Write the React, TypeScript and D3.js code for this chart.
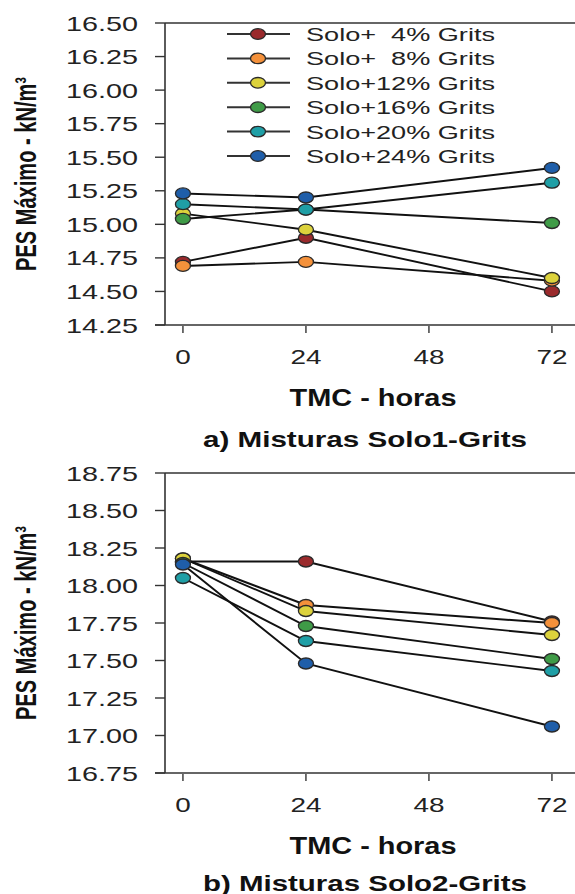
import * as d3 from 'd3';

const hours = [0, 24, 72];
const hourTicks = [0, 24, 48, 72];
const mixLabels = [
  'Solo+  4% Grits',
  'Solo+  8% Grits',
  'Solo+12% Grits',
  'Solo+16% Grits',
  'Solo+20% Grits',
  'Solo+24% Grits',
];
const mixColors = ['#9a2a2c', '#f4913b', '#dcd23c', '#3f9b47', '#1f9fa6', '#1f5ea9'];

// Solo1 (painel a)
const solo1Values = [
  [14.72, 14.9, 14.5],
  [14.69, 14.72, 14.58],
  [15.08, 14.96, 14.6],
  [15.04, 15.11, 15.01],
  [15.15, 15.11, 15.31],
  [15.23, 15.2, 15.42],
];
const solo1Ticks = [14.25, 14.5, 14.75, 15.0, 15.25, 15.5, 15.75, 16.0, 16.25, 16.5];

// Solo2 (painel b)
const solo2Values = [
  [18.16, 18.16, 17.76],
  [18.18, 17.87, 17.75],
  [18.18, 17.83, 17.67],
  [18.15, 17.73, 17.51],
  [18.05, 17.63, 17.43],
  [18.14, 17.48, 17.06],
];
const solo2Ticks = [16.75, 17.0, 17.25, 17.5, 17.75, 18.0, 18.25, 18.5, 18.75];

const W = 575;
const H = 894;
const FONT = '"Liberation Sans", Arial, sans-serif';
const left = 165;
const right = 575;
const axisColor = '#333';

const x = d3.scaleLinear().domain([-3.5, 76.5]).range([left, right]);

interface PanelProps {
  values: number[][];
  ticks: number[];
  top: number;
  bottom: number;
  title: string;
  titleDy: number;
  legend?: boolean;
}

function Panel({ values, ticks, top, bottom, title, titleDy, legend }: PanelProps) {
  const y = d3.scaleLinear().domain(d3.extent(ticks) as [number, number]).range([bottom, top]);
  const line = d3.line<number>()
    .x((_, i) => x(hours[i]))
    .y((d) => y(d));
  const midY = (top + bottom) / 2;

  return (
    <g>
      {/* frame */}
      <line x1={left} x2={right} y1={top} y2={top} stroke={axisColor} strokeWidth={1.6} />
      <line x1={left} x2={left} y1={top} y2={bottom} stroke={axisColor} strokeWidth={1.6} />
      <line x1={left - 10} x2={right} y1={bottom} y2={bottom} stroke={axisColor} strokeWidth={1.6} />

      {ticks.map((t) => (
        <g key={t}>
          <line x1={left - 10} x2={left} y1={y(t)} y2={y(t)} stroke={axisColor} strokeWidth={1.4} />
          <text x={138} y={y(t) + 7.5} textAnchor="end" fontSize={21} fill="#222"
            textLength={72} lengthAdjust="spacingAndGlyphs">
            {d3.format('.2f')(t)}
          </text>
        </g>
      ))}

      {hourTicks.map((h) => (
        <g key={h}>
          <line x1={x(h)} x2={x(h)} y1={bottom + 1} y2={bottom + 8} stroke={axisColor} strokeWidth={1.4} />
          <text x={x(h)} y={bottom + 39} textAnchor="middle" fontSize={20.5} fill="#222"
            textLength={String(h).length * 15.5} lengthAdjust="spacingAndGlyphs">
            {h}
          </text>
        </g>
      ))}

      <text x={373} y={bottom + 81} textAnchor="middle" fontSize={23} fontWeight="bold" fill="#111"
        textLength={167} lengthAdjust="spacingAndGlyphs">
        TMC - horas
      </text>
      <text x={365} y={bottom + titleDy} textAnchor="middle" fontSize={22} fontWeight="bold" fill="#111"
        textLength={324} lengthAdjust="spacingAndGlyphs">
        {title}
      </text>

      <text transform={`translate(36,${midY}) rotate(-90)`} textAnchor="middle" fontSize={29}
        fontWeight="bold" fill="#111" textLength={194} lengthAdjust="spacingAndGlyphs">
        PES Máximo - kN/m³
      </text>

      {values.map((s, i) => (
        <g key={i}>
          <path d={line(s) ?? ''} fill="none" stroke="#111" strokeWidth={1.9} />
          {s.map((v, j) => (
            <ellipse key={j} cx={x(hours[j])} cy={y(v)} rx={7.5} ry={5.5}
              fill={mixColors[i]} stroke="#2a2a2a" strokeWidth={1.3} />
          ))}
        </g>
      ))}

      {legend && mixLabels.map((lab, i) => {
        const ly = 34 + i * 24.4;
        return (
          <g key={lab}>
            <line x1={227} x2={290} y1={ly} y2={ly} stroke="#333" strokeWidth={2} />
            <ellipse cx={258} cy={ly} rx={7.5} ry={5.3} fill={mixColors[i]} stroke="#2a2a2a" strokeWidth={1.3} />
            <text x={306} y={ly + 7} fontSize={18.5} fill="#222" style={{ whiteSpace: 'pre' }}
              textLength={189} lengthAdjust="spacingAndGlyphs">
              {lab}
            </text>
          </g>
        );
      })}
    </g>
  );
}

export default function App() {
  return (
    <svg width={W} height={H} style={{ position: 'absolute', left: 0, top: 0, background: '#fff' }}
      fontFamily={FONT}>
      <rect width={W} height={H} fill="#fff" />
      <Panel values={solo1Values} ticks={solo1Ticks} top={23} bottom={325}
        title="a) Misturas Solo1-Grits" titleDy={122} legend />
      <Panel values={solo2Values} ticks={solo2Ticks} top={473} bottom={773}
        title="b) Misturas Solo2-Grits" titleDy={118} />
    </svg>
  );
}
